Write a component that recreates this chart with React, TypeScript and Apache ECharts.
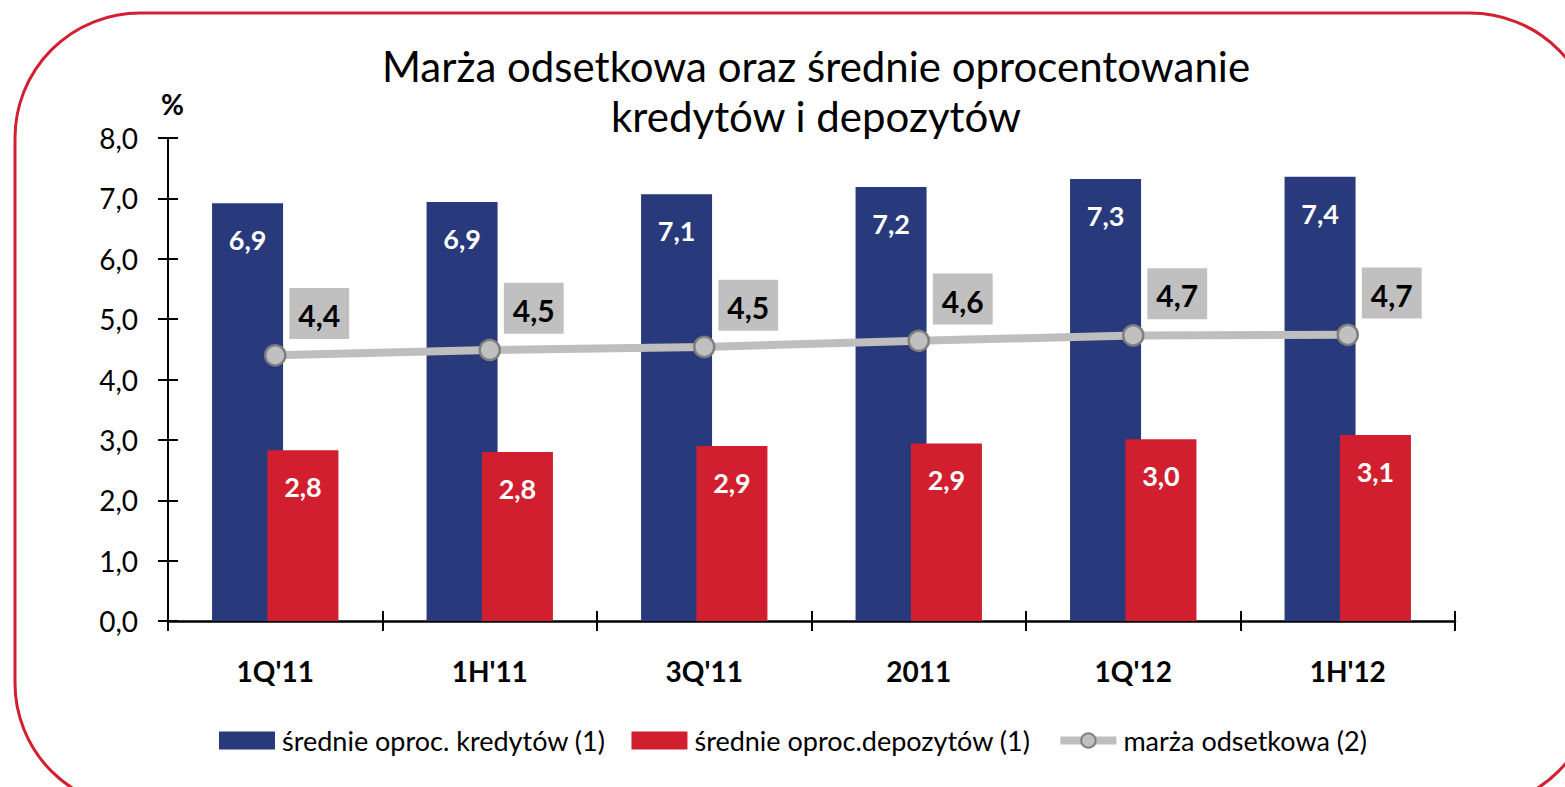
import React, { useEffect, useRef } from "react";
import * as echarts from "echarts";

const categories = ["1Q'11", "1H'11", "3Q'11", "2011", "1Q'12", "1H'12"];
const loanRates = [6.92, 6.94, 7.07, 7.19, 7.32, 7.36];
const depositRates = [2.83, 2.8, 2.9, 2.94, 3.01, 3.08];
const interestMargin = [4.4, 4.49, 4.54, 4.64, 4.73, 4.74];
const seriesNames = ["średnie oproc. kredytów (1)", "średnie oproc.depozytów (1)", "marża odsetkowa (2)"];
const titleText = "Marża odsetkowa oraz średnie oprocentowanie\nkredytów i depozytów";

const fmt = (v: number) => v.toFixed(1).replace(".", ",");

export default function App() {
  const ref = useRef<HTMLDivElement>(null);
  useEffect(() => {
    if (!ref.current) return;
    const chart = echarts.init(ref.current, undefined, { renderer: "svg" });
    const font = "Lato";
    chart.setOption({
      animation: false,
      backgroundColor: "#ffffff",
      textStyle: { fontFamily: font },
      title: {
        text: titleText,
        left: 811,
        top: 36,
        textAlign: "center",
        textStyle: { fontFamily: font, fontSize: 42, fontWeight: "normal", color: "#000", lineHeight: 50 },
      },
      graphic: [
        {
          type: "rect",
          shape: { x: 15, y: 13, width: 1580, height: 795, r: 125 },
          style: { fill: "none", stroke: "#D22030", lineWidth: 3 },
          silent: true,
        },
        {
          type: "text",
          left: 161,
          top: 90,
          style: { text: "%", fontFamily: font, fontSize: 28, fontWeight: "bold", fill: "#000" },
        },
      ],
      legend: {
        left: 214,
        top: 722,
        itemWidth: 56,
        itemHeight: 18,
        itemGap: 26,
        textStyle: { fontFamily: font, fontSize: 27, color: "#000", padding: [0, 0, 0, 2] },
        data: [
          { name: seriesNames[0], icon: "rect" },
          { name: seriesNames[1], icon: "rect" },
          { name: seriesNames[2], lineStyle: { width: 8, color: "#BEBEBE" } },
        ],
      },
      grid: { left: 168, right: 110, top: 138, bottom: 166 },
      xAxis: [
        {
          type: "category",
          data: categories,
          axisLine: { lineStyle: { color: "#000", width: 2.5 } },
          axisTick: { show: true, length: 10, lineStyle: { color: "#000", width: 2 } },
          axisLabel: { margin: 36, fontFamily: font, fontSize: 28, fontWeight: "bold", color: "#000" },
        },
        {
          type: "category",
          data: categories,
          position: "bottom",
          axisLine: { show: false },
          axisTick: { show: true, inside: true, length: 10, lineStyle: { color: "#000", width: 2 } },
          axisLabel: { show: false },
        },
      ],
      yAxis: [
        {
          type: "value",
          min: 0,
          max: 8,
          interval: 1,
          splitLine: { show: false },
          axisLine: { show: true, lineStyle: { color: "#000", width: 2 } },
          axisTick: { show: true, length: 10, lineStyle: { color: "#000", width: 2 } },
          axisLabel: { margin: 30, fontFamily: font, fontSize: 28, color: "#000", formatter: (v: number) => fmt(v) },
        },
        {
          type: "value",
          min: 0,
          max: 8,
          interval: 1,
          position: "left",
          splitLine: { show: false },
          axisLine: { show: false },
          axisTick: { show: true, inside: true, length: 10, lineStyle: { color: "#000", width: 2 } },
          axisLabel: { show: false },
        },
      ],
      series: [
        {
          name: seriesNames[0],
          type: "bar",
          data: loanRates,
          barWidth: 71,
          barGap: "-22%",
          itemStyle: { color: "#283A7C" },
          label: {
            show: true,
            position: "insideTop",
            distance: 23,
            fontFamily: font,
            fontSize: 27,
            fontWeight: "bold",
            color: "#fff",
            formatter: (p: any) => fmt(p.value),
          },
        },
        {
          name: seriesNames[1],
          type: "bar",
          data: depositRates,
          barWidth: 71,
          barGap: "-22%",
          itemStyle: { color: "#D21F2F" },
          label: {
            show: true,
            position: "insideTop",
            distance: 23,
            fontFamily: font,
            fontSize: 27,
            fontWeight: "bold",
            color: "#fff",
            formatter: (p: any) => fmt(p.value),
          },
        },
        {
          name: seriesNames[2],
          type: "line",
          data: interestMargin,
          symbol: "circle",
          symbolSize: 20,
          z: 5,
          lineStyle: { color: "#BEBEBE", width: 8 },
          itemStyle: { color: "#C0C0C0", borderColor: "#7F7F7F", borderWidth: 2.5 },
          label: {
            show: true,
            position: "top",
            distance: 2,
            offset: [44, -3],
            fontFamily: font,
            fontSize: 30,
            fontWeight: "bold",
            color: "#000",
            backgroundColor: "#C0C0C0",
            padding: [12, 9, 9, 9],
            formatter: (p: any) => fmt(p.value),
          },
        },
      ],
    });
    return () => chart.dispose();
  }, []);
  return <div ref={ref} style={{ position: "absolute", left: 0, top: 0, width: 1565, height: 787 }} />;
}
